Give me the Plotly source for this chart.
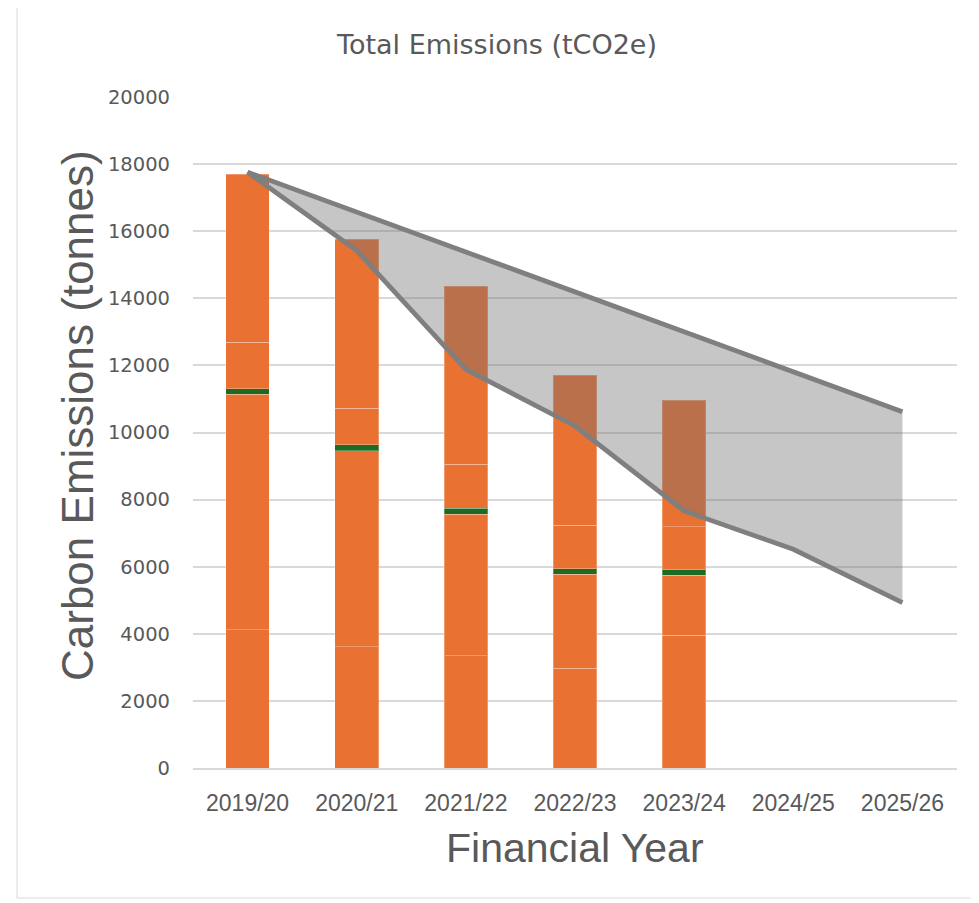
import plotly.graph_objects as go

years = ["2019/20", "2020/21", "2021/22", "2022/23", "2023/24", "2024/25", "2025/26"]
bar_years = years[:5]

# stacked bar segments (tCO2e), bottom to top
seg_base = [4120, 3610, 3348, 2968, 3950]
seg_mid = [7018, 5850, 4217, 2808, 1796]
seg_green = [170, 170, 170, 170, 170]
seg_upper = [1382, 1090, 1316, 1290, 1280]
seg_top = [5010, 5040, 5306, 4476, 3772]

# trajectory band
traj_low = [17760, 15420, 11883, 10194, 7663, 6519, 4930]
traj_high = [17760, 16570, 15380, 14190, 13000, 11810, 10620]

ORANGE = "#E97132"
GREEN = "#1B6B22"
LINE = "#7F7F7F"
TXT = "#595959"

fig = go.Figure()
seg_line = dict(color="rgba(255,255,255,0.28)", width=1)
for vals, col in [(seg_base, ORANGE), (seg_mid, ORANGE), (seg_green, GREEN),
                  (seg_upper, ORANGE), (seg_top, ORANGE)]:
    fig.add_trace(go.Bar(x=bar_years, y=vals, marker=dict(color=col, line=seg_line),
                         width=0.4, showlegend=False, hoverinfo="y"))

fig.add_trace(go.Scatter(x=years, y=traj_low, mode="lines", line=dict(width=0),
                         showlegend=False, hoverinfo="skip"))
fig.add_trace(go.Scatter(x=years, y=traj_high, mode="lines", line=dict(width=0),
                         fill="tonexty", fillcolor="rgba(113,113,113,0.4)",
                         showlegend=False, hoverinfo="skip"))
fig.add_trace(go.Scatter(x=years, y=traj_high, mode="lines",
                         line=dict(color=LINE, width=4.8), showlegend=False))
fig.add_trace(go.Scatter(x=years, y=traj_low, mode="lines",
                         line=dict(color=LINE, width=4.8), showlegend=False))

OFF = 8  # page body margin
W, H = 979, 903
L, T = 193 - OFF, 97 - OFF
R = W - (957 - OFF)
B = H - (768 - OFF)
pw, ph = W - L - R, H - T - B

def px(x):
    return (x - OFF - L) / pw

def py(y):
    return (H - B - (y - OFF)) / ph

fig.update_layout(
    width=W, height=H,
    margin=dict(l=L, r=R, t=T, b=B),
    barmode="stack",
    paper_bgcolor="white", plot_bgcolor="white",
    title=dict(text="Total Emissions (tCO2e)", x=(497 - OFF) / W, xanchor="center",
               y=1 - (45 - OFF) / H, yanchor="middle",
               font=dict(family="DejaVu Sans", size=27, color=TXT)),
    xaxis=dict(type="category", categoryorder="array", categoryarray=years,
               range=[-0.5, 6.5], showgrid=False, showline=True,
               linecolor="#D9D9D9", linewidth=2, ticks="",
               ticklabelstandoff=13,
               tickfont=dict(family="Liberation Sans", size=23, color=TXT)),
    yaxis=dict(range=[0, 20000], dtick=2000, showgrid=True, gridcolor="#D9D9D9",
               gridwidth=1.5, zeroline=False, showline=False, ticks="",
               ticklabelstandoff=22, tickformat="d",
               tickfont=dict(family="DejaVu Sans", size=19.5, color=TXT)),
    annotations=[
        dict(text="Carbon Emissions (tonnes)", xref="paper", yref="paper",
             x=px(77), y=py(416), textangle=-90, showarrow=False,
             xanchor="center", yanchor="middle",
             font=dict(family="Liberation Sans", size=44, color=TXT)),
        dict(text="Financial Year", xref="paper", yref="paper",
             x=px(575), y=py(848), showarrow=False,
             xanchor="center", yanchor="middle",
             font=dict(family="Liberation Sans", size=41, color=TXT)),
    ],
    shapes=[dict(type="rect", xref="paper", yref="paper",
                 x0=px(17), x1=px(1000), y0=py(898), y1=py(-20),
                 line=dict(color="#D9D9D9", width=1), fillcolor="rgba(0,0,0,0)",
                 layer="below")],
)

fig.write_html("out.html")
